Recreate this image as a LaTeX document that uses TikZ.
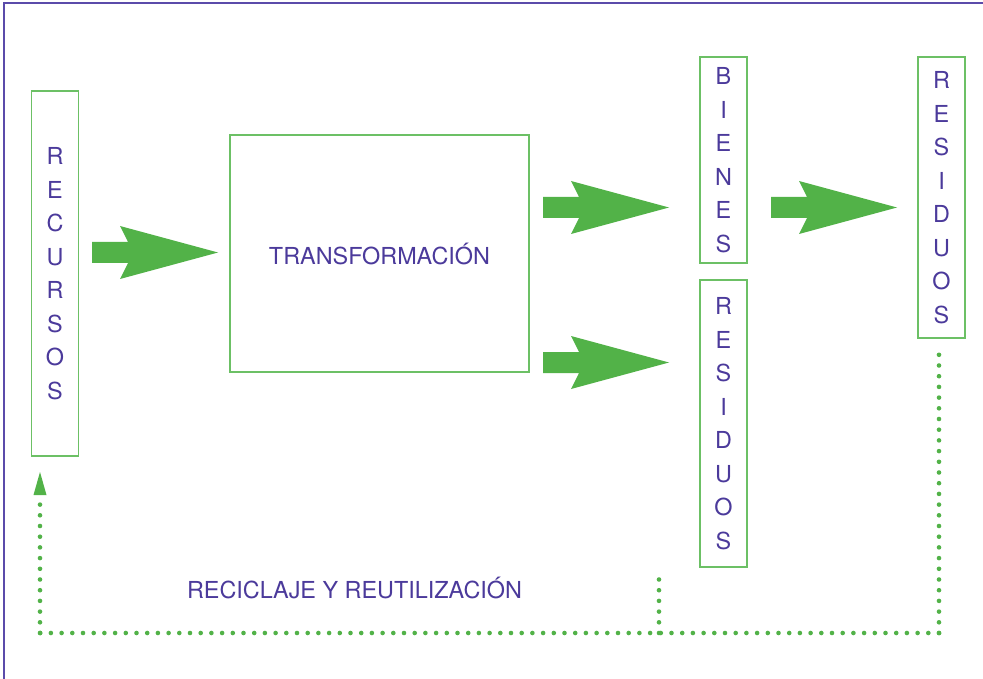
\documentclass[tikz,border=0pt]{standalone}
\usepackage{fontspec}
\setmainfont{TeX Gyre Heros}
\definecolor{framec}{HTML}{5B4BAA}
\definecolor{boxc}{HTML}{6CC065}
\definecolor{arrowc}{HTML}{52B248}
\definecolor{textc}{HTML}{4B3A9B}
\begin{document}
\begin{tikzpicture}[x=1pt,y=-1pt,
  every node/.style={text=textc,font=\fontsize{23.4}{33.5}\selectfont,inner sep=0pt},
  vbox/.style={draw=boxc,line width=1.2pt,minimum width=47pt,align=center},
  tbox/.style={draw=boxc,line width=1.2pt,minimum width=299pt,minimum height=237pt},
  dots/.style={draw=arrowc,line width=4.6pt,line cap=round,dash pattern=on 0pt off 10.7pt},
  fatarrow/.pic={\fill[arrowc] (0,-10.5) -- (36,-10.5) -- (28,-26.5) -- (126,0) -- (28,26.5) -- (36,10.5) -- (0,10.5) -- cycle;}]
\useasboundingbox (0,0) rectangle (983,679);
\fill[white] (0,0) rectangle (983,679);
\draw[framec,line width=1.5pt] (983,3) -- (4,3) -- (4,679);
% boxes
\node[vbox,minimum height=365pt] (recursos) at (55,273.5) {R\\E\\C\\U\\R\\S\\O\\S};
\node[tbox] (trans) at (379.5,253.5) {};
\node (transtxt) at (379.5,254) {TRANSFORMACIÓN};
\node[vbox,minimum height=206pt] (bienes) at (723.5,160) {B\\I\\E\\N\\E\\S};
\node[vbox,minimum height=287pt] (residuos) at (723.5,423.5) {R\\E\\S\\I\\D\\U\\O\\S};
\node[vbox,minimum height=281pt] (residuosb) at (941.5,197.5) {R\\E\\S\\I\\D\\U\\O\\S};
\node (recic) at (354.5,588) {RECICLAJE Y REUTILIZACIÓN};
% fat arrows
\pic at (92,252.5) {fatarrow};
\pic at (543,207.5) {fatarrow};
\pic at (543,362.5) {fatarrow};
\pic at (771,207.5) {fatarrow};
% dotted recycling loop
\coordinate (rtop) at (939,348);
\coordinate (rcorner) at (939,633);
\coordinate (join) at (659,633);
\coordinate (jtop) at (659,573);
\coordinate (lcorner) at (40,633);
\coordinate (ltop) at (40,497);
\coordinate (ltip) at (40,472);
\draw[dots] (rcorner) -- (rtop);
\draw[dots] (rcorner) -- (lcorner);
\draw[dots] (lcorner) -- (ltop);
\draw[dots] (join) -- (jtop);
\fill[arrowc] (ltip) -- ([xshift=6.5pt,yshift=-23pt]ltip) -- ([xshift=-6.5pt,yshift=-23pt]ltip) -- cycle;
\end{tikzpicture}
\end{document}
